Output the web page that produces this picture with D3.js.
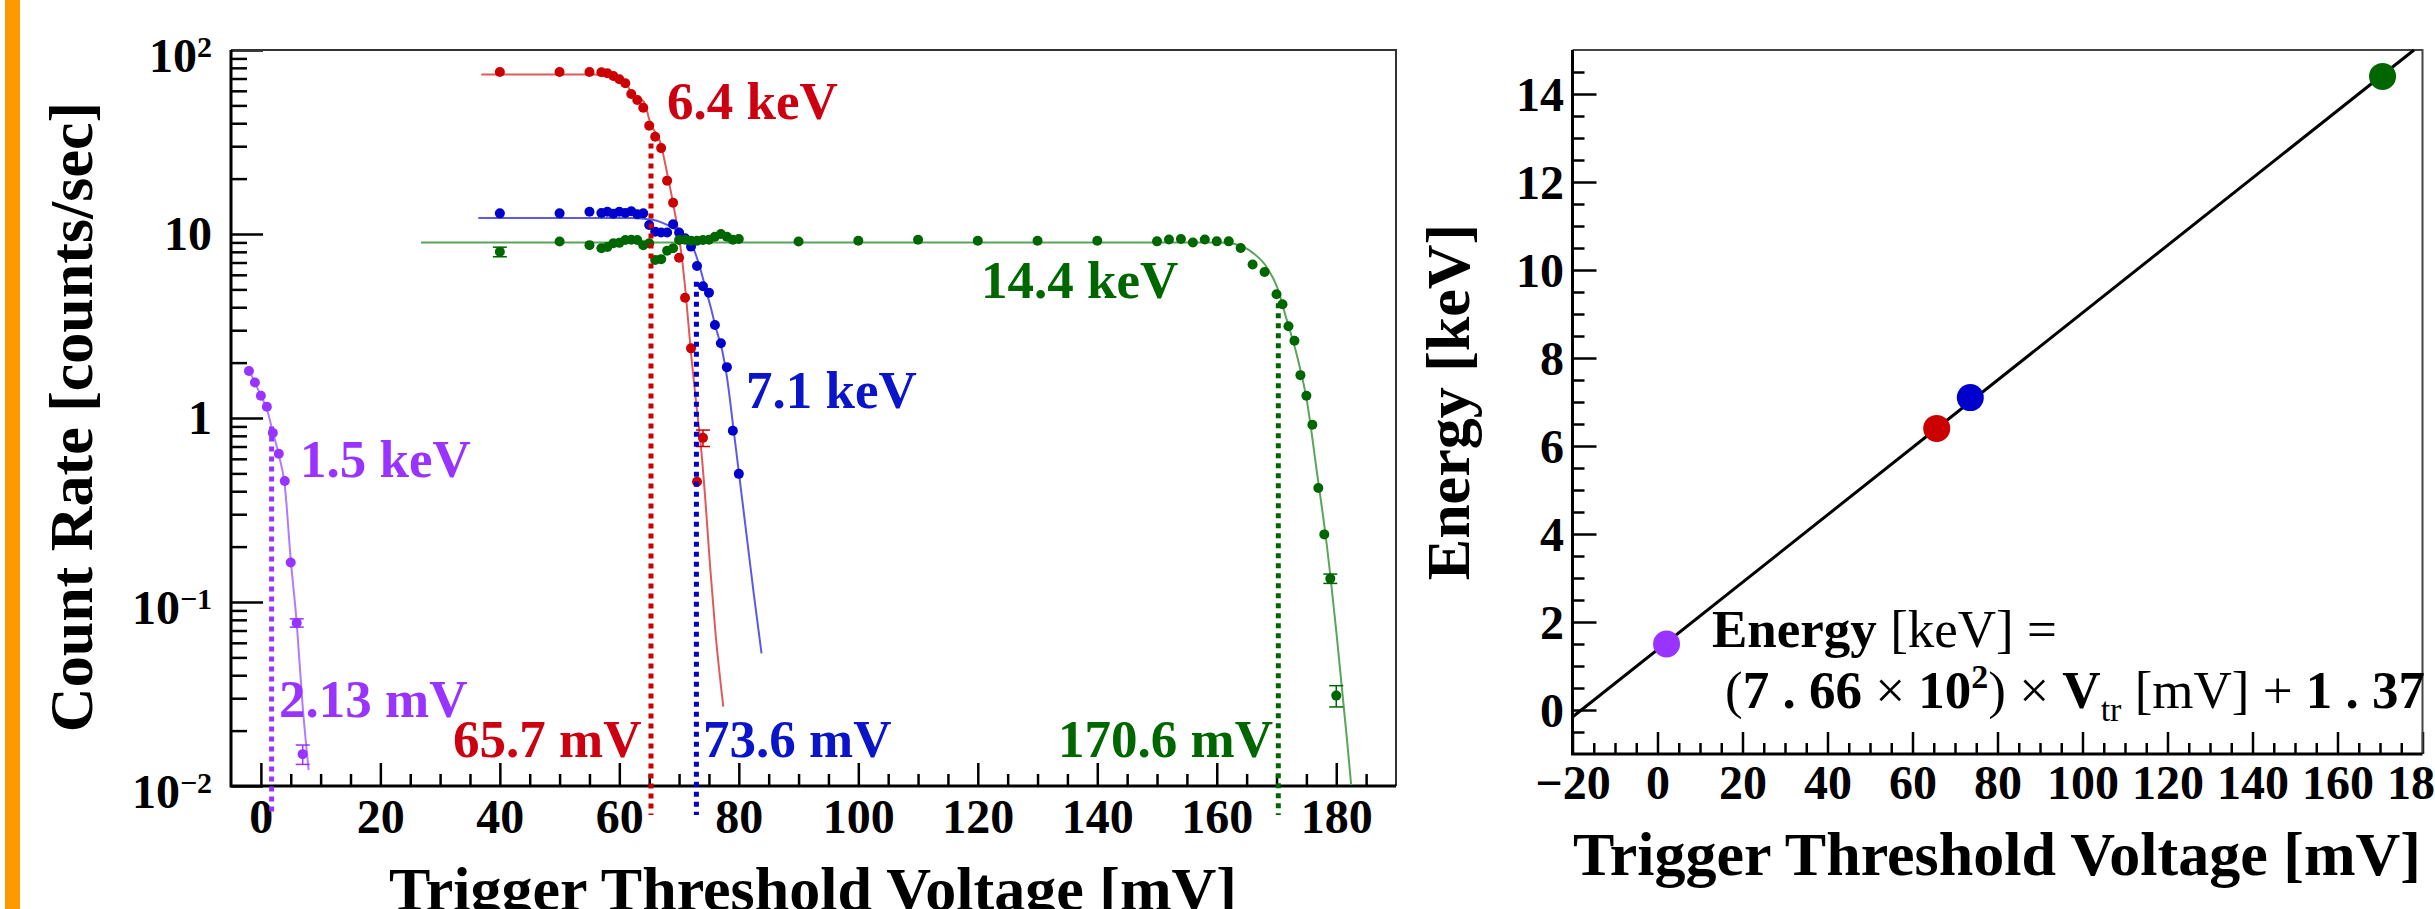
<!DOCTYPE html>
<html>
<head>
<meta charset="utf-8">
<script src="https://cdn.jsdelivr.net/npm/d3@7"></script>
<style>
  body { margin: 0; background: #fff; }
</style>
</head>
<body>
<script>
// ---- left panel: count rate vs trigger threshold ----
const violetV = [-2, -1, 0, 1, 2, 3, 4, 5, 6, 7];
const violetRate = [1.80, 1.56, 1.32, 1.15, 0.83, 0.64, 0.455, 0.164, 0.077, 0.0149];
const violetErr = [0, 0, 0, 0, 0, 0, 0, 0, 0.004, 0.0018];
const violetFit = [[-2, 1.82], [-1, 1.56], [0, 1.32], [1, 1.12], [2, 0.84], [3, 0.63], [4, 0.43], [5, 0.17], [6, 0.077], [7, 0.027], [8, 0.0122]];

const redV = [40, 50, 55, 57, 58, 59, 60, 61, 62, 63, 64, 65, 66, 67, 68, 69, 70, 71, 72, 73, 74];
const redRate = [76, 76, 76, 75.7, 74.7, 72.3, 69.3, 65.9, 57.6, 53.5, 48.5, 38.8, 33.8, 29.3, 19.5, 14.8, 7.43, 4.5, 2.39, 0.45, 0.78];
const redErr = [0, 0, 0, 0, 0, 0, 0, 0, 0, 0, 0, 0, 0, 0, 0, 0, 0, 0, 0, 0, 0.08];
const redFit = [[36.9, 73.5], [56, 73.5], [58, 72], [60, 69], [61, 67.3], [61.9, 59.3], [62.9, 55.7], [64.1, 52.4], [65.2, 39.9], [66.9, 31.1], [68, 21.4], [69.1, 14.1], [70.3, 8.2], [71.1, 4.8], [71.9, 2.44], [73, 1.1], [73.6, 0.73], [74.4, 0.358], [75.2, 0.155], [76.1, 0.0676], [77.4, 0.027]];

const blueV = [40, 50, 55, 57, 58, 59, 60, 61, 62, 63, 64, 65, 66, 67, 68, 69, 70, 71, 72, 73, 74, 75, 76, 77, 78, 79, 80];
const blueRate = [12.95, 12.95, 13.2, 13.0, 13.2, 12.9, 13.2, 13.0, 13.3, 12.8, 12.95, 11.2, 10.3, 10.2, 10.2, 11.3, 10.2, 9.48, 8.54, 6.7, 5.2, 4.8, 3.2, 2.55, 1.89, 0.853, 0.497];
const blueFit = [[36.4, 12.2], [62, 12.2], [64.1, 12.1], [66.3, 11.8], [68, 11.2], [69.6, 10.5], [71.3, 9.5], [72.5, 8.2], [73.6, 6.4], [74.7, 4.7], [75.3, 4.0], [76.1, 3.13], [77.2, 2.34], [78, 1.68], [79.2, 0.826], [80.3, 0.424], [81.4, 0.217], [82.5, 0.111], [83.8, 0.0526]];

const greenV = [40, 50, 55, 57, 58, 59, 60, 61, 62, 63, 64, 65, 66, 67, 68, 69, 70, 71, 72, 73, 74, 75, 76, 77, 78, 79, 80,
  90, 100, 110, 120, 130, 140, 150, 152, 154, 156, 158, 160, 162, 164, 166, 168, 170, 171, 172, 173, 174, 175, 176, 177, 178, 179, 180];
const greenRate = [8.0, 9.1, 8.7, 8.36, 8.5, 8.9, 8.95, 9.27, 9.3, 9.27, 8.7, 8.9, 7.23, 7.3, 8.1, 8.36, 9.27, 9.3, 9.2, 9.2, 9.27, 9.3, 9.66, 10.0, 9.66, 9.3, 9.4,
  9.1, 9.2, 9.3, 9.2, 9.2, 9.2, 9.12, 9.33, 9.4, 9.0, 9.33, 9.12, 9.12, 8.4, 6.82, 6.21, 4.70, 4.15, 3.15, 2.63, 1.71, 1.32, 0.92, 0.416, 0.233, 0.134, 0.031];
const greenErr = greenV.map(v => v === 40 ? 0.48 : v === 179 ? 0.0078 : v === 180 ? 0.0041 : 0);
const greenFit = [[26.8, 9.0], [160, 9.0], [162.8, 8.85], [166.1, 7.87], [168.4, 6.58], [170.1, 5.14], [171.7, 3.43], [173.4, 2.2], [175.1, 1.23], [176.7, 0.526], [178.4, 0.206], [180.1, 0.0646], [181.8, 0.0178], [182.5, 0.0101]];

// half-height marker lines as drawn (x position, upper end)
const markV = [1.8, 65.3, 72.9, 170.3];
const markTop = [0.9, 31, 5.5, 4.2];

const rateTicks = [0.01, 0.1, 1, 10, 100];
const voltTicks = [0, 20, 40, 60, 80, 100, 120, 140, 160, 180];

// ---- right panel: energy calibration ----
const lineNames = ["1.5 keV", "6.4 keV", "7.1 keV", "14.4 keV"];
const calibV = [2.13, 65.7, 73.6, 170.6];
const calibE = [1.5, 6.4, 7.1, 14.4];
const fitLineV = [-20, 178];
const fitLineE = [-0.16, 15.0];
const energyTicks = [0, 2, 4, 6, 8, 10, 12, 14];
const voltTicksR = [-20, 0, 20, 40, 60, 80, 100, 120, 140, 160, 180];

const FONT = "'Liberation Serif', 'Times New Roman', 'DejaVu Serif', serif";
const W = 2435, H = 909;

const svg = d3.select("body").append("svg")
    .attr("width", W)
    .attr("height", H)
    .attr("font-family", FONT)
    .attr("font-weight", "bold");

svg.append("rect").attr("width", W).attr("height", H).attr("fill", "#fff");
svg.append("rect").attr("x", 5).attr("y", 0).attr("width", 15).attr("height", H).attr("fill", "#ff9900");

// ================= left panel =================
const xL = d3.scaleLinear().domain([-5, 190]).range([231, 1396]);
const yL = d3.scaleLog().domain([0.01, 100]).range([786, 50]);

const series = [
    { v: violetV, r: violetRate, e: violetErr, fit: violetFit, dot: "#9933ff", line: "#b27aff" },
    { v: redV, r: redRate, e: redErr, fit: redFit, dot: "#cc0000", line: "#e05a5a" },
    { v: blueV, r: blueRate, e: blueV.map(() => 0), fit: blueFit, dot: "#0000cc", line: "#5a5ae6" },
    { v: greenV, r: greenRate, e: greenErr, fit: greenFit, dot: "#006600", line: "#5ca35c" }
];

// minor ticks
const minorY = [];
[0.01, 0.1, 1, 10].forEach(d => d3.range(2, 10).forEach(k => minorY.push(d * k)));
const minorX = d3.range(5, 190, 5).filter(v => v % 20 !== 0);

svg.append("g")
    .attr("transform", `translate(231,0)`)
    .call(d3.axisLeft(yL).tickValues(rateTicks).tickSizeInner(-32).tickSizeOuter(0).tickFormat(""))
    .call(g => g.select(".domain").remove())
    .call(g => g.selectAll("line").attr("stroke-width", 2.5));
svg.append("g")
    .attr("transform", `translate(231,0)`)
    .call(d3.axisLeft(yL).tickValues(minorY).tickSizeInner(-16).tickSizeOuter(0).tickFormat(""))
    .call(g => g.select(".domain").remove())
    .call(g => g.selectAll("line").attr("stroke-width", 2.5));

svg.append("g")
    .attr("transform", `translate(0,786)`)
    .call(d3.axisBottom(xL).tickValues(minorX).tickSizeInner(-12).tickSizeOuter(0).tickFormat(""))
    .call(g => g.select(".domain").remove())
    .call(g => g.selectAll("line").attr("stroke-width", 2.5));
svg.append("g")
    .attr("transform", `translate(0,786)`)
    .call(d3.axisBottom(xL).tickValues(voltTicks).tickSizeInner(-23).tickSizeOuter(0).tickPadding(13))
    .call(g => g.select(".domain").remove())
    .call(g => g.selectAll("line").attr("stroke-width", 2.5))
    .call(g => g.selectAll("text").attr("font-family", FONT).attr("font-weight", "bold").attr("font-size", 48));

// y tick labels with powers of ten
const yLab = svg.append("g").attr("font-size", 48).attr("text-anchor", "end");
rateTicks.forEach(t => {
    const p = Math.round(Math.log10(t));
    const txt = yLab.append("text").attr("x", 212);
    if (p === 0 || p === 1) {
        txt.attr("y", yL(t) + 16).text(p === 0 ? "1" : "10");
    } else {
        txt.attr("y", yL(t) + 22);
        txt.append("tspan").text("10");
        txt.append("tspan").attr("font-size", 30).attr("dy", -15).text(p < 0 ? "\u2212" + (-p) : String(p));
    }
});

// frame
svg.append("path")
    .attr("d", `M231,50H1396V786`)
    .attr("fill", "none").attr("stroke", "#333").attr("stroke-width", 2);
svg.append("path")
    .attr("d", `M231,50V786H1396`)
    .attr("fill", "none").attr("stroke", "#000").attr("stroke-width", 3);

const curve = d3.line().x(d => xL(d[0])).y(d => yL(d[1])).curve(d3.curveMonotoneX);

series.forEach(s => {
    svg.append("path")
        .datum(s.fit)
        .attr("fill", "none")
        .attr("stroke", s.line)
        .attr("stroke-width", 2)
        .attr("d", curve);

    const pts = s.v.map((v, i) => ({ v, r: s.r[i], e: s.e[i] }));

    const eb = svg.append("g").attr("stroke", s.dot).attr("stroke-width", 1.5)
        .selectAll("g").data(pts.filter(d => d.e > 0)).join("g");
    eb.append("line")
        .attr("x1", d => xL(d.v)).attr("x2", d => xL(d.v))
        .attr("y1", d => yL(d.r - d.e)).attr("y2", d => yL(d.r + d.e));
    eb.append("line")
        .attr("x1", d => xL(d.v) - 7).attr("x2", d => xL(d.v) + 7)
        .attr("y1", d => yL(d.r - d.e)).attr("y2", d => yL(d.r - d.e));
    eb.append("line")
        .attr("x1", d => xL(d.v) - 7).attr("x2", d => xL(d.v) + 7)
        .attr("y1", d => yL(d.r + d.e)).attr("y2", d => yL(d.r + d.e));

    svg.append("g").attr("fill", s.dot)
        .selectAll("circle").data(pts).join("circle")
        .attr("cx", d => xL(d.v)).attr("cy", d => yL(d.r)).attr("r", 5);
});

// dotted half-height markers, running a little below the axis
series.forEach((s, i) => {
    svg.append("line")
        .attr("x1", xL(markV[i])).attr("x2", xL(markV[i]))
        .attr("y1", yL(markTop[i])).attr("y2", 786 + 29)
        .attr("stroke", s.dot).attr("stroke-width", 5)
        .attr("stroke-dasharray", "5 5");
});

// annotations
const notes = [
    { t: lineNames[0], x: 300, y: 477, c: "#9933ff" },
    { t: calibV[0].toFixed(2) + " mV", x: 279, y: 717, c: "#9933ff" },
    { t: lineNames[1], x: 667, y: 119, c: "#cc0010" },
    { t: calibV[1].toFixed(1) + " mV", x: 453, y: 757, c: "#cc0010" },
    { t: lineNames[2], x: 746, y: 408, c: "#0a14c8" },
    { t: calibV[2].toFixed(1) + " mV", x: 703, y: 757, c: "#0a14c8" },
    { t: lineNames[3], x: 981, y: 298, c: "#006600" },
    { t: calibV[3].toFixed(1) + " mV", x: 1058, y: 757, c: "#006600" }
];
svg.append("g").attr("font-size", 53)
    .selectAll("text").data(notes).join("text")
    .attr("x", d => d.x).attr("y", d => d.y).attr("fill", d => d.c)
    .text(d => d.t);

// axis titles
svg.append("text")
    .attr("x", 813).attr("y", 910).attr("text-anchor", "middle").attr("font-size", 62)
    .text("Trigger Threshold Voltage [mV]");
svg.append("text")
    .attr("transform", "translate(92,417) rotate(-90)")
    .attr("text-anchor", "middle").attr("font-size", 62)
    .text("Count Rate [counts/sec]");

// ================= right panel =================
const xR = d3.scaleLinear().domain([-20, 180]).range([1572.5, 2422.5]);
const yR = d3.scaleLinear().domain([-1, 15]).range([754, 50]);

const minorE = d3.range(-0.5, 15, 0.5).filter(v => v % 2 !== 0);
const minorXR = d3.range(-15, 180, 5).filter(v => v % 20 !== 0);

svg.append("g")
    .attr("transform", `translate(1572.5,0)`)
    .call(d3.axisLeft(yR).tickValues(minorE).tickSizeInner(-12).tickSizeOuter(0).tickFormat(""))
    .call(g => g.select(".domain").remove())
    .call(g => g.selectAll("line").attr("stroke-width", 2.5));
svg.append("g")
    .attr("transform", `translate(1572.5,0)`)
    .call(d3.axisLeft(yR).tickValues(energyTicks).tickSizeInner(-24).tickSizeOuter(0).tickFormat(""))
    .call(g => g.select(".domain").remove())
    .call(g => g.selectAll("line").attr("stroke-width", 2.5));
svg.append("g").attr("font-size", 48).attr("text-anchor", "end")
    .selectAll("text").data(energyTicks).join("text")
    .attr("x", 1564).attr("y", d => yR(d) + 17)
    .text(d => d);

svg.append("g")
    .attr("transform", `translate(0,754)`)
    .call(d3.axisBottom(xR).tickValues(minorXR).tickSizeInner(-11).tickSizeOuter(0).tickFormat(""))
    .call(g => g.select(".domain").remove())
    .call(g => g.selectAll("line").attr("stroke-width", 2.5));
svg.append("g")
    .attr("transform", `translate(0,754)`)
    .call(d3.axisBottom(xR).tickValues(voltTicksR).tickSizeInner(-22).tickSizeOuter(0).tickPadding(11))
    .call(g => g.select(".domain").remove())
    .call(g => g.selectAll("line").attr("stroke-width", 2.5))
    .call(g => g.selectAll("text").attr("font-family", FONT).attr("font-weight", "bold").attr("font-size", 48));

svg.append("path")
    .attr("d", `M1572.5,50H2422.5V754`)
    .attr("fill", "none").attr("stroke", "#444").attr("stroke-width", 2);
svg.append("path")
    .attr("d", `M1572.5,50V754H2422.5`)
    .attr("fill", "none").attr("stroke", "#000").attr("stroke-width", 3);

svg.append("line")
    .attr("x1", xR(fitLineV[0])).attr("y1", yR(fitLineE[0]))
    .attr("x2", xR(fitLineV[1])).attr("y2", yR(fitLineE[1]))
    .attr("stroke", "#000").attr("stroke-width", 3);

svg.append("g")
    .selectAll("circle").data(calibV).join("circle")
    .attr("cx", d => xR(d)).attr("cy", (d, i) => yR(calibE[i])).attr("r", 13.5)
    .attr("fill", (d, i) => series[i].dot);

// fit formula
const f1 = svg.append("text").attr("x", 1712).attr("y", 647).attr("font-size", 53);
f1.append("tspan").text("Energy");
f1.append("tspan").attr("font-weight", "normal").text(" [keV] =");

const f2 = svg.append("text").attr("x", 1725).attr("y", 708).attr("font-size", 53);
f2.append("tspan").attr("font-weight", "normal").text("(");
f2.append("tspan").text("7 . 66");
f2.append("tspan").attr("font-weight", "normal").text(" \u00d7 ");
f2.append("tspan").text("10");
f2.append("tspan").attr("font-size", 34).attr("dy", -20).text("2");
f2.append("tspan").attr("font-weight", "normal").attr("dy", 20).text(")");
f2.append("tspan").attr("font-weight", "normal").text(" \u00d7 ");
f2.append("tspan").text("V");
f2.append("tspan").attr("font-weight", "normal").attr("font-size", 34).attr("dy", 13).text("tr");
f2.append("tspan").attr("font-weight", "normal").attr("dy", -13).text(" [mV] + ");
f2.append("tspan").text("1 . 37");

svg.append("text")
    .attr("x", 1997).attr("y", 875).attr("text-anchor", "middle").attr("font-size", 62)
    .text("Trigger Threshold Voltage [mV]");
svg.append("text")
    .attr("transform", "translate(1469,402) rotate(-90)")
    .attr("text-anchor", "middle").attr("font-size", 62)
    .text("Energy [keV]");
</script>
</body>
</html>
